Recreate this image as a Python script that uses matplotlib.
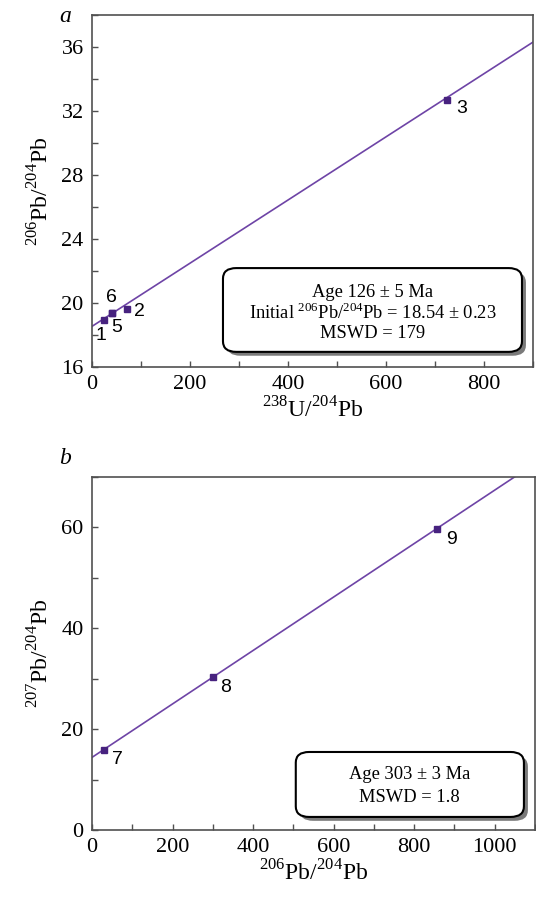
import matplotlib
matplotlib.use("Agg")
import matplotlib.pyplot as plt
from matplotlib.patches import FancyBboxPatch
from matplotlib.ticker import MultipleLocator
import numpy as np

# panel a: 238U/204Pb vs 206Pb/204Pb
a_labels = ["1", "5", "6", "2", "3"]
a_x = [24, 40, 41, 72, 724]
a_y = [18.93, 19.38, 19.40, 19.65, 32.69]
a_intercept = 18.54
a_slope = 0.01974
a_text = ["Age 126 ± 5 Ma",
          r"Initial $^{206}$Pb/$^{204}$Pb = 18.54 ± 0.23",
          "MSWD = 179"]

# panel b: 206Pb/204Pb vs 207Pb/204Pb
b_labels = ["7", "8", "9"]
b_x = [31, 300, 857]
b_y = [15.9, 30.3, 59.6]
b_intercept = 14.4
b_slope = 0.0530
b_text = ["Age 303 ± 3 Ma", "MSWD = 1.8"]

# label offsets in pixels (dx, dy)
a_offsets = [(-3, -15), (5, -15), (-1, 15), (12, -3), (15, -9)]
b_offsets = [(13, -10), (13, -10), (14, -10)]

plt.rcParams["font.family"] = "Liberation Serif"
plt.rcParams["mathtext.fontset"] = "custom"
plt.rcParams["mathtext.rm"] = "Liberation Serif"

LINE_C = "#6e44a6"
MARK_C = "#47227f"
SPINE_C = "#505050"

fig = plt.figure(figsize=(5.36, 8.97), dpi=100)
ax1 = fig.add_axes([92 / 536, 1 - 367 / 897, 441 / 536, 352 / 897])
ax2 = fig.add_axes([92 / 536, 1 - 830 / 897, 443 / 536, 353 / 897])


def style_axes(ax):
    for s in ax.spines.values():
        s.set_color(SPINE_C)
        s.set_linewidth(1.2)
    ax.tick_params(which="both", direction="in", length=4, width=1,
                   color=SPINE_C, labelsize=16, pad=6)
    ax.tick_params(top=False, right=False)


def draw_box(ax, x0, y0, x1, y1, lines, ys, fs=13.3):
    shadow = FancyBboxPatch((x0 + 0.009, y0 - 0.011), x1 - x0, y1 - y0,
                            boxstyle="round,pad=0,rounding_size=0.03",
                            transform=ax.transAxes, fc="#7a7a7a", ec="none",
                            zorder=4)
    box = FancyBboxPatch((x0, y0), x1 - x0, y1 - y0,
                         boxstyle="round,pad=0,rounding_size=0.03",
                         transform=ax.transAxes, fc="white", ec="black",
                         lw=1.5, zorder=5)
    ax.add_patch(shadow)
    ax.add_patch(box)
    for t, yy in zip(lines, ys):
        ax.text((x0 + x1) / 2, yy, t, transform=ax.transAxes, ha="center",
                va="center", fontsize=fs, zorder=6)


# ---- panel a ----
xx = np.array([0, 900])
ax1.plot(xx, a_intercept + a_slope * xx, color=LINE_C, lw=1.2, zorder=2)
ax1.plot(a_x, a_y, "s", color=MARK_C, ms=5, zorder=3)
for lab, x, y, off in zip(a_labels, a_x, a_y, a_offsets):
    ax1.annotate(lab, (x, y), xytext=off, textcoords="offset pixels",
                 ha="center", va="center", fontsize=14,
                 family="Liberation Sans", zorder=3)
ax1.set_xlim(0, 900)
ax1.set_ylim(16, 38)
ax1.xaxis.set_major_locator(MultipleLocator(200))
ax1.xaxis.set_minor_locator(MultipleLocator(100))
ax1.yaxis.set_major_locator(MultipleLocator(4))
ax1.yaxis.set_minor_locator(MultipleLocator(2))
style_axes(ax1)
ax1.set_xlabel(r"$^{238}$U/$^{204}$Pb", fontsize=17, labelpad=2)
ax1.set_ylabel(r"$^{206}$Pb/$^{204}$Pb", fontsize=17, labelpad=6)
draw_box(ax1, 0.297, 0.043, 0.975, 0.281, a_text, [0.211, 0.153, 0.096])

# ---- panel b ----
xx = np.array([0, 1100])
ax2.plot(xx, b_intercept + b_slope * xx, color=LINE_C, lw=1.2, zorder=2)
ax2.plot(b_x, b_y, "s", color=MARK_C, ms=5, zorder=3)
for lab, x, y, off in zip(b_labels, b_x, b_y, b_offsets):
    ax2.annotate(lab, (x, y), xytext=off, textcoords="offset pixels",
                 ha="center", va="center", fontsize=14,
                 family="Liberation Sans", zorder=3)
ax2.set_xlim(0, 1100)
ax2.set_ylim(0, 70)
ax2.xaxis.set_major_locator(MultipleLocator(200))
ax2.xaxis.set_minor_locator(MultipleLocator(100))
ax2.yaxis.set_major_locator(MultipleLocator(20))
ax2.yaxis.set_minor_locator(MultipleLocator(10))
style_axes(ax2)
ax2.set_xlabel(r"$^{206}$Pb/$^{204}$Pb", fontsize=17, labelpad=2)
ax2.set_ylabel(r"$^{207}$Pb/$^{204}$Pb", fontsize=17, labelpad=6)
draw_box(ax2, 0.46, 0.037, 0.975, 0.221, b_text, [0.156, 0.091])

fig.text(65 / 536, 1 - 17 / 897, "a", fontsize=17, style="italic",
         ha="center", va="center")
fig.text(65 / 536, 1 - 458 / 897, "b", fontsize=17, style="italic",
         ha="center", va="center")

fig.savefig("out.png", dpi=100, facecolor="white")
